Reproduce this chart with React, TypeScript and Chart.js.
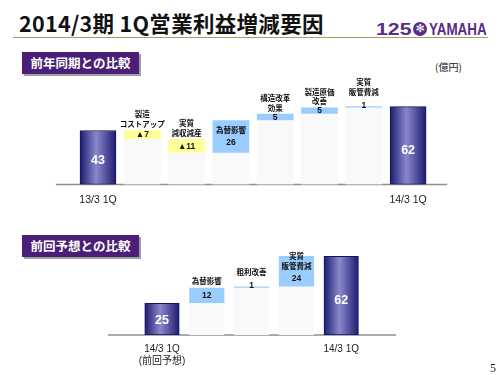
import React, { useEffect, useRef } from 'react';
import { Chart, registerables } from 'chart.js';

Chart.register(...registerables);

// ---- data ----
const yoyCategories = ['13/3 1Q', '製造\nコストアップ', '実質\n減収減産', '為替影響', '構造改革\n効果', '製造原価\n改善', '実質\n販管費減', '14/3 1Q'];
const yoyValues = [43, -7, -11, 26, 5, 5, 1, 62];

const fcCategories = ['14/3 1Q\n(前回予想)', '為替影響', '粗利改善', '実質\n販管費減', '14/3 1Q'];
const fcValues = [25, 12, 1, 24, 62];

const NEG_COLOR = '#ffff99';
const POS_COLOR = '#99ccff';
const GHOST_COLOR = '#f9f9fb';
const TOTAL_EDGE = '#1c1c70';
const TOTAL_MID = '#8a88cc';
const PURPLE = '#4b1f78';
const CJK = "'Noto Sans CJK JP', sans-serif";

type Kind = 'total' | 'neg' | 'pos';

function buildWaterfall(values: number[]) {
  const kinds: Kind[] = [];
  const ranges: [number, number][] = [];
  let running = 0;
  values.forEach((v, i) => {
    if (i === 0 || i === values.length - 1) {
      kinds.push('total');
      ranges.push([0, v]);
      running = v;
    } else {
      kinds.push(v < 0 ? 'neg' : 'pos');
      const next = running + v;
      ranges.push([Math.min(running, next), Math.max(running, next)]);
      running = next;
    }
  });
  return { kinds, ranges };
}

type CfgProps = {
  categories: string[];
  values: number[];
  top: number;
  height: number;
  padding: { left: number; right: number; top: number; bottom: number };
  yMax: number;
  barThickness: number;
  tickPadding: number;
  tickFontSize: number;
  tickLineHeight: number;
  axisExtend: [number, number];
};

function WaterfallChart(p: CfgProps) {
  const ref = useRef<HTMLCanvasElement>(null);
  useEffect(() => {
    const { kinds, ranges } = buildWaterfall(p.values);
    const half = p.barThickness / 2;

    const labelPlugin = {
      id: 'waterfallDecor',
      beforeDatasetsDraw(chart: any) {
        const { ctx, chartArea, scales } = chart;
        const y0 = scales.y.getPixelForValue(0);
        ctx.save();
        ctx.strokeStyle = '#8f8f8f';
        ctx.lineWidth = 1.5;
        ctx.beginPath();
        ctx.moveTo(chartArea.left - p.axisExtend[0], y0);
        ctx.lineTo(chartArea.right + p.axisExtend[1], y0);
        ctx.stroke();
        ctx.restore();
      },
      afterDatasetsDraw(chart: any) {
        const { ctx } = chart;
        const meta = chart.getDatasetMeta(1);
        meta.data.forEach((el: any, i: number) => {
          const top = Math.min(el.y, el.base);
          const bottom = Math.max(el.y, el.base);
          const h = bottom - top;
          const x = el.x;
          const v = p.values[i];
          ctx.save();
          ctx.textAlign = 'center';
          ctx.textBaseline = 'middle';
          if (kinds[i] === 'total') {
            ctx.fillStyle = '#ffffff';
            ctx.font = "bold 12.5px 'Liberation Sans', Arial, sans-serif";
            ctx.fillText(String(v), x, bottom - 0.44 * h);
          } else {
            const lines = p.categories[i].split('\n');
            const numText = v < 0 ? '▲' + Math.abs(v) : String(v);
            let numY: number;
            let lastLabelY: number;
            if (h > 28) {
              numY = top + 22;
              lastLabelY = numY - 12.5;
            } else if (h < 4) {
              numY = top - 1.5;
              lastLabelY = top - 15;
            } else {
              numY = (top + bottom) / 2;
              lastLabelY = top - 6.5;
            }
            ctx.fillStyle = '#111111';
            ctx.font = `bold 7.5px ${CJK}`;
            const lh = 9.5;
            lines.forEach((ln, j) => {
              ctx.fillText(ln, x, lastLabelY - (lines.length - 1 - j) * lh);
            });
            ctx.font = `bold 8.5px 'Liberation Sans', ${CJK}`;
            ctx.fillText(numText, x, numY);
          }
          ctx.restore();
        });
      },
    };

    const chart = new Chart(ref.current as HTMLCanvasElement, {
      type: 'bar',
      data: {
        labels: p.categories,
        datasets: [
          {
            data: ranges.map((r, i) => (kinds[i] === 'total' ? null : [0, r[0]])) as any,
            backgroundColor: GHOST_COLOR,
            borderWidth: 0,
            grouped: false,
            barThickness: p.barThickness,
          } as any,
          {
            data: ranges as any,
            grouped: false,
            barThickness: p.barThickness,
            borderSkipped: false,
            borderWidth: (c: any) => (kinds[c.dataIndex] === 'total' ? 1 : 0),
            borderColor: (c: any) => (kinds[c.dataIndex] === 'total' ? '#15155a' : 'rgba(0,0,0,0)'),
            backgroundColor: (c: any) => {
              const k = kinds[c.dataIndex];
              if (k === 'neg') return NEG_COLOR;
              if (k === 'pos') return POS_COLOR;
              const ch = c.chart;
              const xs = ch.scales && ch.scales.x;
              if (!ch.chartArea || !xs) return TOTAL_MID;
              const cx = xs.getPixelForValue(c.dataIndex);
              const g = ch.ctx.createLinearGradient(cx - half, 0, cx + half, 0);
              g.addColorStop(0, TOTAL_EDGE);
              g.addColorStop(0.45, TOTAL_MID);
              g.addColorStop(1, TOTAL_EDGE);
              return g;
            },
          } as any,
        ],
      },
      options: {
        responsive: false,
        maintainAspectRatio: false,
        animation: false,
        events: [],
        layout: { padding: p.padding },
        plugins: { legend: { display: false }, tooltip: { enabled: false } },
        scales: {
          x: {
            grid: { display: false, drawTicks: false, tickLength: 0 },
            border: { display: false },
            ticks: {
              autoSkip: false,
              maxRotation: 0,
              minRotation: 0,
              padding: p.tickPadding,
              color: '#222222',
              font: { family: `'Liberation Sans', ${CJK}`, size: p.tickFontSize, lineHeight: p.tickLineHeight },
              callback: (_v: any, i: number) => (kinds[i] === 'total' ? p.categories[i].split('\n') : ''),
            },
          },
          y: { display: false, min: 0, max: p.yMax },
        },
      },
      plugins: [labelPlugin],
    });
    return () => chart.destroy();
  }, []);
  return (
    <canvas
      ref={ref}
      width={500}
      height={p.height}
      style={{ position: 'absolute', left: 0, top: p.top, width: 500, height: p.height }}
    />
  );
}

function SectionHeader({ text, top }: { text: string; top: number }) {
  return (
    <div
      style={{
        position: 'absolute',
        left: 22,
        top,
        width: 117,
        height: 22,
        background: PURPLE,
        boxShadow: '2px 2px 0 #a0a0a0',
        color: '#ffffff',
        fontFamily: CJK,
        fontWeight: 'bold',
        fontSize: 12.5,
        display: 'flex',
        alignItems: 'center',
        justifyContent: 'center',
        lineHeight: '22px',
      }}
    >
      {text}
    </div>
  );
}

export default function App() {
  return (
    <div
      style={{
        position: 'fixed',
        left: 0,
        top: 0,
        width: 500,
        height: 375,
        background: '#ffffff',
        overflow: 'hidden',
      }}
    >
      <div
        style={{
          position: 'absolute',
          left: 19,
          top: 11.5,
          fontFamily: CJK,
          fontWeight: 'bold',
          fontSize: 21.5,
          lineHeight: '22px',
          letterSpacing: 0.3,
          color: '#111111',
          whiteSpace: 'nowrap',
        }}
      >
        2014/3期 1Q営業利益増減要因
      </div>
      <div style={{ position: 'absolute', left: 13, top: 36.5, width: 475, height: 1.5, background: '#a29f66' }} />
      {/* logo */}
      <div
        style={{
          position: 'absolute',
          left: 376,
          top: 20.6,
          fontFamily: "'Liberation Sans', Arial, sans-serif",
          fontWeight: 900,
          fontSize: 17,
          lineHeight: '17px',
          color: '#5a2d86',
          transform: 'scaleX(1.25)',
          transformOrigin: 'left center',
          whiteSpace: 'nowrap',
        }}
      >
        125
      </div>
      <div
        style={{
          position: 'absolute',
          left: 413,
          top: 21.5,
          width: 14,
          height: 14,
          borderRadius: '50%',
          background: '#5a2d86',
          color: '#ffffff',
          fontFamily: "'DejaVu Sans', sans-serif",
          fontSize: 11,
          lineHeight: '14px',
          textAlign: 'center',
        }}
      >
        ✻
      </div>
      <div
        style={{
          position: 'absolute',
          left: 429,
          top: 20.6,
          fontFamily: "'Liberation Sans', Arial, sans-serif",
          fontWeight: 'bold',
          fontSize: 17,
          lineHeight: '17px',
          color: '#5a2d86',
          transform: 'scaleX(0.79)',
          transformOrigin: 'left center',
          whiteSpace: 'nowrap',
        }}
      >
        YAMAHA
      </div>

      <SectionHeader text="前年同期との比較" top={51.5} />
      <div
        style={{
          position: 'absolute',
          left: 435,
          top: 60,
          fontFamily: CJK,
          fontSize: 10,
          lineHeight: '14px',
          color: '#222222',
          whiteSpace: 'nowrap',
        }}
      >
        (億円)
      </div>

      <WaterfallChart
        categories={yoyCategories}
        values={yoyValues}
        top={75}
        height={140}
        padding={{ left: 75.85, right: 69.75, top: 9.1, bottom: 0 }}
        yMax={80}
        barThickness={36}
        tickPadding={9}
        tickFontSize={10.5}
        tickLineHeight={1.2}
        axisExtend={[20, 17]}
      />

      <SectionHeader text="前回予想との比較" top={235} />

      <WaterfallChart
        categories={fcCategories}
        values={fcValues}
        top={238}
        height={138}
        padding={{ left: 139.6, right: 136.4, top: 8.1, bottom: 0.5 }}
        yMax={70}
        barThickness={34.5}
        tickPadding={7.75}
        tickFontSize={10}
        tickLineHeight={1.25}
        axisExtend={[31.5, 32.5]}
      />

      <div
        style={{
          position: 'absolute',
          left: 490,
          top: 361,
          fontFamily: "'Liberation Serif', serif",
          fontSize: 12,
          lineHeight: '14px',
          color: '#222222',
        }}
      >
        5
      </div>
    </div>
  );
}
